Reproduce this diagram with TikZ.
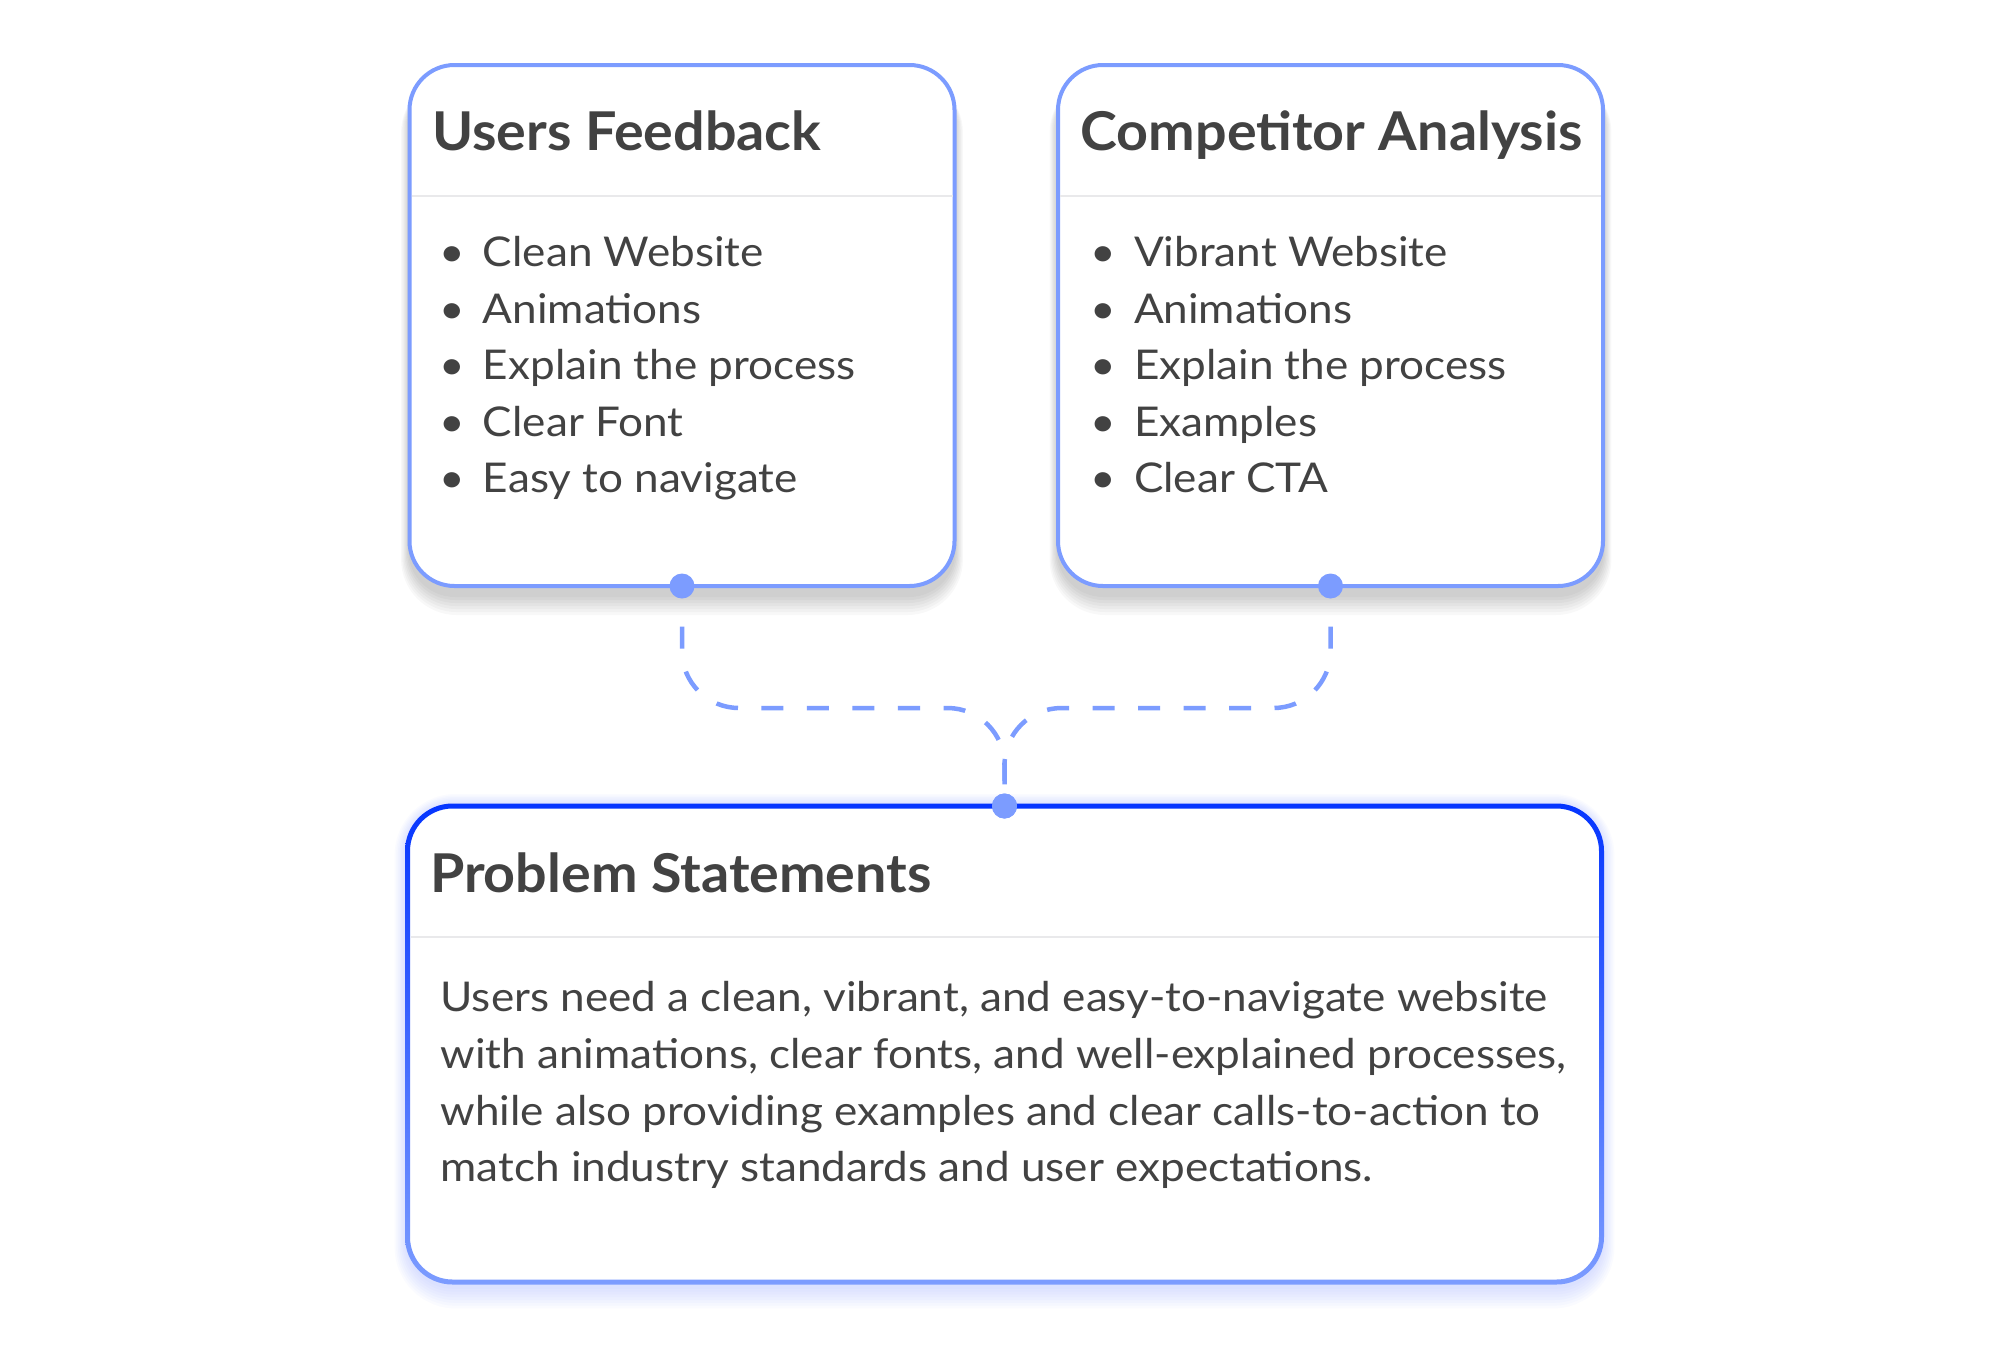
\documentclass[tikz,border=0pt]{standalone}
\usepackage{fontspec}
\setmainfont{Lato}
\newfontfamily\bodyfont{Lato}[FakeStretch=1.075]
\newfontfamily\titlefont{Lato}[FakeStretch=1.04]
\usetikzlibrary{calc}
\definecolor{txtc}{HTML}{424242}
\definecolor{lb}{HTML}{7C9CFF}
\definecolor{db}{HTML}{0535FF}
\definecolor{sepc}{HTML}{E9E9EB}
\definecolor{glowc}{HTML}{5C7CFF}
\pgfdeclarelayer{bg}
\pgfsetlayers{bg,main}
\begin{document}
\begin{tikzpicture}[x=1pt,y=-1pt,
  txt/.style={text=txtc, inner sep=0pt, outer sep=0pt, anchor=base west},
  ttl/.style={txt, font=\titlefont\fontsize{53.5}{64}\selectfont\bfseries},
  itm/.style={txt, font=\bodyfont\fontsize{41}{56}\selectfont},
  topbox/.style={draw=lb, line width=4pt, fill=white, rounded corners=45pt,
    minimum width=545pt, minimum height=521pt, inner sep=0pt, outer sep=0pt},
  botbox/.style={fill=white, rounded corners=45pt, minimum width=1194pt,
    minimum height=476pt, inner sep=0pt, outer sep=0pt},
  sepline/.style={draw=sepc, line width=1.5pt},
  dotnode/.style={circle, fill=lb, minimum size=25pt, inner sep=0pt, outer sep=0pt},
  conn/.style={draw=lb, line width=4.5pt, rounded corners=57pt,
    dash pattern=on 22pt off 23.5pt, dash phase=22.5pt, shorten <=5pt},
]
\useasboundingbox (0,0) rectangle (2010,1345);

% boxes
\node[topbox] (uf) at (682,325.5) {};
\node[topbox] (cp) at (1330.5,325.5) {};
\node[botbox] (pb) at (1004.5,1044) {};

% background and shadows
\begin{pgfonlayer}{bg}
\fill[white] (0,0) rectangle (2010,1345);
\foreach \k in {1,...,7} {
  \pgfmathsetmacro\rr{45+1.5*\k}
  \fill[black, opacity=0.026, rounded corners=\rr pt]
    ([shift={(-1.2*\k,12)}]uf.north west) rectangle ([shift={(1.2*\k,8+3*\k)}]uf.south east);
  \fill[black, opacity=0.026, rounded corners=\rr pt]
    ([shift={(-1.2*\k,12)}]cp.north west) rectangle ([shift={(1.2*\k,8+3*\k)}]cp.south east);
}
\foreach \k in {1,...,8} {
  \pgfmathsetmacro\rr{45+2*\k}
  \fill[glowc, opacity=0.028, rounded corners=\rr pt]
    ([shift={(-1.6*\k,-1.5*\k)}]pb.north west) rectangle ([shift={(1.6*\k,4+2.8*\k)}]pb.south east);
}
\end{pgfonlayer}

% gradient border of bottom box
\shade[top color=db, bottom color=lb, even odd rule, rounded corners=47.5pt]
  ([shift={(-2.5,-2.5)}]pb.north west) rectangle ([shift={(2.5,2.5)}]pb.south east)
  [rounded corners=42.5pt]
  ([shift={(2.5,2.5)}]pb.north west) rectangle ([shift={(-2.5,-2.5)}]pb.south east);

% separators
\draw[sepline] ([shift={(2,131)}]uf.north west) -- ([shift={(-2,131)}]uf.north east);
\draw[sepline] ([shift={(2,131)}]cp.north west) -- ([shift={(-2,131)}]cp.north east);
\draw[sepline] ([shift={(3,131)}]pb.north west) -- ([shift={(-3,131)}]pb.north east);

% titles
\node[ttl] (uft) at (432,150) {Users Feedback};
\node[ttl] (cpt) at (1080.5,150) {Competitor Analysis};
\node[ttl] (pbt) at (430,892) {Problem Statements};

% lists
\foreach \t [count=\i from 0] in {Clean Website, Animations, Explain the process, Clear Font, Easy to navigate}
  \node[itm] (ufi\i) at (439,{266.7+56.5*\i}) {\makebox[44pt][l]{•}\t};
\foreach \t [count=\i from 0] in {Vibrant Website, Animations, Explain the process, Examples, Clear CTA}
  \node[itm] (cpi\i) at (1090,{266.7+56.5*\i}) {\makebox[44pt][l]{•}\t};

% body
\node[itm] (pb0) at (440.5,1011.7) {Users need a clean, vibrant, and easy-to-navigate website};
\node[itm] (pb1) at (440.5,1068.4) {with animations, clear fonts, and well-explained processes,};
\node[itm] (pb2) at (440.5,1125.1) {while also providing examples and clear calls-to-action to};
\node[itm] (pb3) at (440.5,1181.8) {match industry standards and user expectations.};

% connectors
\coordinate (j) at (1004.5,708);
\node[dotnode] (d1) at (uf.south) {};
\node[dotnode] (d2) at (cp.south) {};
\node[dotnode] (d3) at (pb.north) {};
\draw[conn] (d1) |- (j) -- (d3);
\draw[conn] (d2) |- (j) -- (d3);
\node[dotnode] at (d3) {};
\end{tikzpicture}
\end{document}
